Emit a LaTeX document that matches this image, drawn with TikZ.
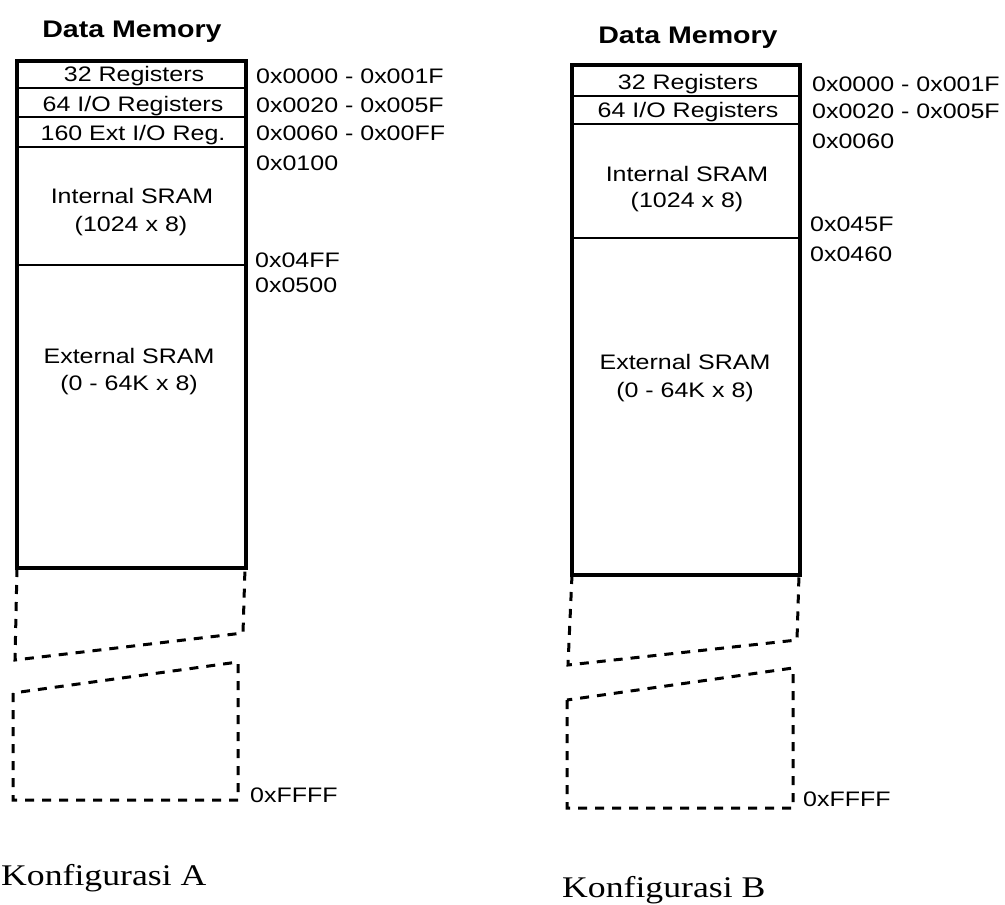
\documentclass[tikz,border=0pt]{standalone}
\usepackage{fontspec}
\setmainfont[FakeStretch=1.19]{Liberation Serif}
\setsansfont[FakeStretch=1.19]{Liberation Sans}
\begin{document}
\begin{tikzpicture}[x=1pt, y=-1pt,
    memedge/.style={line width=4pt, line join=miter},
    memsep/.style={line width=2pt},
    gapline/.style={line width=3pt, dash pattern=on 9pt off 8pt},
    celltxt/.style={font=\sffamily\fontsize{21}{23}\selectfont, inner sep=0pt, anchor=base},
    addrtxt/.style={font=\sffamily\fontsize{21}{23}\selectfont, inner sep=0pt, anchor=base west},
    titletxt/.style={font=\sffamily\bfseries\fontsize{24}{26}\selectfont, inner sep=0pt, anchor=base},
    captxt/.style={font=\fontsize{30}{32}\selectfont, inner sep=0pt, anchor=base west}]
    \useasboundingbox (0,0) rectangle (1005,905);

    % Konfigurasi A: memory map
    \node[titletxt] (titleA) at (132, 37) {Data Memory};
    \draw[memedge] (17,61) rectangle (246,568);
    \draw[memsep] (17,88) -- (246,88);
    \draw[memsep] (17,117) -- (246,117);
    \draw[memsep] (17,147) -- (246,147);
    \draw[memsep] (17,265) -- (246,265);
    \node[celltxt] (regA) at (134, 81) {32 Registers};
    \node[celltxt] (ioA) at (133, 111) {64 I/O Registers};
    \node[celltxt] (extioA) at (133, 140) {160 Ext I/O Reg.};
    \node[celltxt] (isramA) at (132, 203) {Internal SRAM};
    \node[celltxt] (isramszA) at (131, 231) {(1024 x 8)};
    \node[celltxt] (esramA) at (129, 363) {External SRAM};
    \node[celltxt] (esramszA) at (129, 390) {(0 - 64K x 8)};

    % gap up to the top of the address space
    \draw[gapline] (17,568) -- (15,660) -- (243,633) -- (245,568);
    \draw[gapline] (13,693) -- (13,800) -- (238,800) -- (238,662) -- cycle;

    % addresses A
    \node[addrtxt] (adrA1) at (256, 83) {0x0000 - 0x001F};
    \node[addrtxt] (adrA2) at (256, 112) {0x0020 - 0x005F};
    \node[addrtxt] (adrA3) at (256, 140) {0x0060 - 0x00FF};
    \node[addrtxt] (adrA4) at (256, 170) {0x0100};
    \node[addrtxt] (adrA5) at (255, 267) {0x04FF};
    \node[addrtxt] (adrA6) at (255, 292) {0x0500};
    \node[addrtxt] (adrA7) at (250, 802) {0xFFFF};
    \node[captxt] (capA) at (1, 885) {Konfigurasi A};

    % Konfigurasi B: memory map
    \node[titletxt] (titleB) at (688, 43) {Data Memory};
    \draw[memedge] (572,65) rectangle (800,575);
    \draw[memsep] (572,96) -- (800,96);
    \draw[memsep] (572,124) -- (800,124);
    \draw[memsep] (572,238) -- (800,238);
    \node[celltxt] (regB) at (688, 89) {32 Registers};
    \node[celltxt] (ioB) at (688, 117) {64 I/O Registers};
    \node[celltxt] (isramB) at (687, 181) {Internal SRAM};
    \node[celltxt] (isramszB) at (687, 207) {(1024 x 8)};
    \node[celltxt] (esramB) at (685, 369) {External SRAM};
    \node[celltxt] (esramszB) at (685, 397) {(0 - 64K x 8)};

    % gap up to the top of the address space
    \draw[gapline] (572,575) -- (568,665) -- (797,640) -- (799,575);
    \draw[gapline] (567,700) -- (567,808) -- (793,808) -- (793,668) -- cycle;

    % addresses B
    \node[addrtxt] (adrB1) at (812, 91) {0x0000 - 0x001F};
    \node[addrtxt] (adrB2) at (812, 118) {0x0020 - 0x005F};
    \node[addrtxt] (adrB3) at (812, 148) {0x0060};
    \node[addrtxt] (adrB4) at (810, 231) {0x045F};
    \node[addrtxt] (adrB5) at (810, 261) {0x0460};
    \node[addrtxt] (adrB6) at (803, 806) {0xFFFF};
    \node[captxt] (capB) at (562, 897) {Konfigurasi B};
\end{tikzpicture}
\end{document}
